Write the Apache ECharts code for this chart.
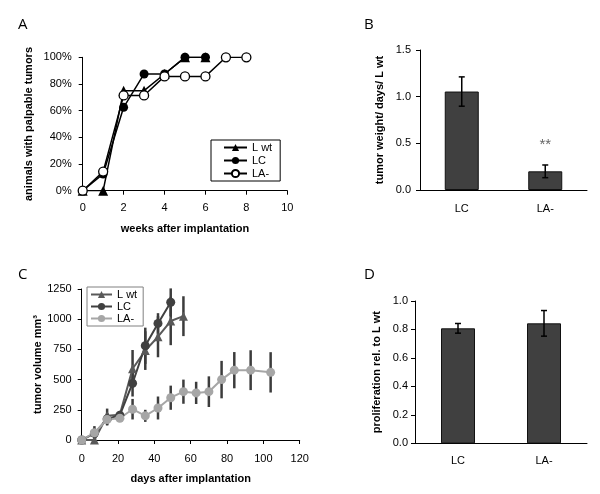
<!DOCTYPE html>
<html>
<head>
<meta charset="utf-8">
<script src="https://cdn.jsdelivr.net/npm/echarts@6/dist/echarts.min.js"></script>
<style>html,body{margin:0;padding:0;background:#fff;}#chart{width:600px;height:494px;}</style>
</head>
<body>
<div id="chart"></div>
<script>
// ---------- Panel A: animals with palpable tumors (%) ----------
const weeksA = [0, 1, 2, 3, 4, 5, 6, 7, 8];
const aLwt = [0, 0, 75, 75, 87.5, 100, 100];
const aLC = [0, 12.5, 62.5, 87.5, 87.5, 100, 100];
const aLAminus = [0, 14.3, 71.4, 71.4, 85.7, 85.7, 85.7, 100, 100];
const seriesNames = ['L wt', 'LC', 'LA-'];

// ---------- Panel B: tumor weight / days / L wt ----------
const barCats = ['LC', 'LA-'];
const bValues = [1.055, 0.2];
const bErrors = [0.157, 0.068];
const bSigLabel = '**';
const bSigValue = 0.48;

// ---------- Panel C: tumor volume (mm3) ----------
const daysLwt = [0, 7, 14, 21, 28, 35, 42, 49, 56];
const cLwt = [0, 0, 200, 210, 590, 740, 855, 985, 1025];
const cLwtErr = [0, 0, 60, 25, 155, 160, 170, 200, 165];
const daysLC = [0, 7, 14, 21, 28, 35, 42, 49];
const cLC = [0, 55, 175, 205, 470, 780, 965, 1140];
const cLCErr = [0, 60, 50, 30, 110, 150, 85, 115];
const daysLA = [0, 7, 14, 21, 28, 35, 42, 49, 56, 63, 70, 77, 84, 93, 104];
const cLA = [0, 60, 170, 180, 255, 200, 265, 350, 400, 390, 400, 500, 578, 578, 560];
const cLAErr = [0, 40, 50, 30, 85, 50, 95, 100, 100, 92, 127, 155, 150, 165, 167];

// ---------- Panel D: proliferation rel. to L wt ----------
const dValues = [0.808, 0.843];
const dErrors = [0.034, 0.09];

const FONT = '"Liberation Sans", Arial, sans-serif';

function pairs(xs, ys) { return ys.map((y, i) => [xs[i], y]); }
function errData(xs, ys, es) { return ys.map((y, i) => [xs[i], y - es[i], y + es[i]]); }

function errRender(cap, color, width) {
  return function (params, api) {
    const x = api.value(0), lo = api.value(1), hi = api.value(2);
    const p1 = api.coord([x, lo]), p2 = api.coord([x, hi]);
    const st = { stroke: color, lineWidth: width };
    const ch = [{ type: 'line', shape: { x1: p1[0], y1: p1[1], x2: p2[0], y2: p2[1] }, style: st }];
    if (cap) {
      ch.push({ type: 'line', shape: { x1: p1[0] - cap, y1: p1[1], x2: p1[0] + cap, y2: p1[1] }, style: st });
      ch.push({ type: 'line', shape: { x1: p2[0] - cap, y1: p2[1], x2: p2[0] + cap, y2: p2[1] }, style: st });
    }
    return { type: 'group', children: ch };
  };
}

function sigRender(params, api) {
  const p = api.coord([api.value(0), api.value(1)]);
  return { type: 'text', x: p[0], y: p[1],
    style: { text: bSigLabel, fill: '#666', fontSize: 15, fontFamily: FONT, align: 'center', verticalAlign: 'middle' } };
}

const axisLine = { show: true, lineStyle: { color: '#000', width: 1 } };
const axisTick = { show: true, inside: false, length: 4, lineStyle: { color: '#000' } };
const labelStyle = (margin, fmt) => ({ color: '#000', fontSize: 11, fontFamily: FONT, margin: margin, formatter: fmt || (v => String(v)) });
const nameStyle = { color: '#000', fontSize: 11, fontWeight: 'bold', fontFamily: FONT };
const letterStyle = { fontSize: 15, fontWeight: 'normal', color: '#000', fontFamily: '"Open Sans", sans-serif' };

const option = {
  animation: false,
  backgroundColor: '#fff',
  title: [
    { text: 'A', left: 13, top: 12, textStyle: letterStyle },
    { text: 'B', left: 359, top: 12, textStyle: letterStyle },
    { text: 'C', left: 13, top: 262, textStyle: letterStyle },
    { text: 'D', left: 359, top: 262, textStyle: letterStyle }
  ],
  grid: [
    { left: 82.7, top: 57.3, width: 204.6, height: 133.4 },
    { left: 420, top: 50, width: 167, height: 140 },
    { left: 81.7, top: 289, width: 218, height: 151 },
    { left: 415, top: 301, width: 172, height: 142.3 }
  ],
  legend: [
    {
      data: seriesNames, orient: 'vertical', left: 211, top: 140,
      itemWidth: 23, itemHeight: 9, itemGap: 2, padding: [2, 8, 2, 12],
      borderColor: '#000', borderWidth: 1, selectedMode: false,
      textStyle: { fontSize: 11, color: '#000', fontFamily: FONT }
    },
    {
      data: seriesNames.map(n => n + ' '), orient: 'vertical', left: 87, top: 287,
      itemWidth: 21, itemHeight: 9, itemGap: 1, padding: [2, 6, 2, 3],
      borderColor: '#808080', borderWidth: 1, selectedMode: false,
      formatter: n => n.trim(),
      textStyle: { fontSize: 11, color: '#000', fontFamily: FONT }
    }
  ],
  xAxis: [
    { gridIndex: 0, type: 'value', min: 0, max: 10, interval: 2, axisLine, axisTick, splitLine: { show: false },
      axisLabel: labelStyle(12), name: 'weeks after implantation', nameLocation: 'middle', nameGap: 33, nameTextStyle: nameStyle },
    { gridIndex: 1, type: 'category', data: barCats, axisLine, axisTick: { show: false },
      axisLabel: labelStyle(13) },
    { gridIndex: 2, type: 'value', min: 0, max: 120, interval: 20, axisLine, axisTick, splitLine: { show: false },
      axisLabel: labelStyle(13), name: 'days after implantation', nameLocation: 'middle', nameGap: 33, nameTextStyle: nameStyle },
    { gridIndex: 3, type: 'category', data: barCats, axisLine, axisTick: { show: false },
      axisLabel: labelStyle(12) }
  ],
  yAxis: [
    { gridIndex: 0, type: 'value', min: 0, max: 100, interval: 20, axisLine, axisTick, splitLine: { show: false },
      axisLabel: labelStyle(11, v => v + '%'), name: 'animals with palpable tumors', nameLocation: 'middle', nameGap: 48,
      nameTextStyle: Object.assign({}, nameStyle, { padding: [0, 0, 0, 0] }) },
    { gridIndex: 1, type: 'value', min: 0, max: 1.5, interval: 0.5, axisLine, axisTick, splitLine: { show: false },
      axisLabel: labelStyle(9, v => v.toFixed(1)), name: 'tumor weight/ days/ L wt', nameLocation: 'middle', nameGap: 35, nameTextStyle: nameStyle },
    { gridIndex: 2, type: 'value', min: 0, max: 1250, interval: 250, axisLine, axisTick, splitLine: { show: false },
      axisLabel: labelStyle(10, v => String(v)), name: 'tumor volume mm³', nameLocation: 'middle', nameGap: 38, nameTextStyle: nameStyle },
    { gridIndex: 3, type: 'value', min: 0, max: 1, interval: 0.2, axisLine, axisTick, splitLine: { show: false },
      axisLabel: labelStyle(7, v => v.toFixed(1)), name: 'proliferation rel. to L wt', nameLocation: 'middle', nameGap: 33, nameTextStyle: nameStyle }
  ],
  series: [
    // Panel A
    { name: 'L wt', type: 'line', xAxisIndex: 0, yAxisIndex: 0, data: pairs(weeksA, aLwt),
      symbol: 'triangle', symbolSize: 10, showAllSymbol: true,
      itemStyle: { color: '#000' }, lineStyle: { color: '#000', width: 1.5 }, z: 2 },
    { name: 'LC', type: 'line', xAxisIndex: 0, yAxisIndex: 0, data: pairs(weeksA, aLC),
      symbol: 'circle', symbolSize: 9, showAllSymbol: true,
      itemStyle: { color: '#000' }, lineStyle: { color: '#000', width: 1.5 }, z: 3 },
    { name: 'LA-', type: 'line', xAxisIndex: 0, yAxisIndex: 0, data: pairs(weeksA, aLAminus),
      symbol: 'circle', symbolSize: 9, showAllSymbol: true,
      itemStyle: { color: '#fff', borderColor: '#000', borderWidth: 1.3 }, lineStyle: { color: '#000', width: 1.5 }, z: 4 },
    // Panel B
    { name: 'B bars', type: 'bar', xAxisIndex: 1, yAxisIndex: 1, data: bValues, barWidth: 34,
      itemStyle: { color: '#404040', borderColor: '#111', borderWidth: 1 } },
    { name: 'B err', type: 'custom', xAxisIndex: 1, yAxisIndex: 1, encode: { x: 0, y: [1, 2] },
      data: errData([0, 1], bValues, bErrors), renderItem: errRender(3, '#000', 1.5), z: 5 },
    { name: 'B sig', type: 'custom', xAxisIndex: 1, yAxisIndex: 1, encode: { x: 0, y: 1 },
      data: [[1, bSigValue]], renderItem: sigRender, z: 5 },
    // Panel C error bars
    { name: 'C err wt', type: 'custom', xAxisIndex: 2, yAxisIndex: 2, encode: { x: 0, y: [1, 2] },
      data: errData(daysLwt, cLwt, cLwtErr), renderItem: errRender(0, '#3c3c3c', 2.5), z: 1 },
    { name: 'C err LC', type: 'custom', xAxisIndex: 2, yAxisIndex: 2, encode: { x: 0, y: [1, 2] },
      data: errData(daysLC, cLC, cLCErr), renderItem: errRender(0, '#3c3c3c', 2.5), z: 1 },
    { name: 'C err LA', type: 'custom', xAxisIndex: 2, yAxisIndex: 2, encode: { x: 0, y: [1, 2] },
      data: errData(daysLA, cLA, cLAErr), renderItem: errRender(0, '#3c3c3c', 2.5), z: 1 },
    // Panel C lines
    { name: 'L wt ', type: 'line', xAxisIndex: 2, yAxisIndex: 2, data: pairs(daysLwt, cLwt),
      symbol: 'triangle', symbolSize: 9, showAllSymbol: true,
      itemStyle: { color: '#595959' }, lineStyle: { color: '#595959', width: 2 }, z: 3 },
    { name: 'LC ', type: 'line', xAxisIndex: 2, yAxisIndex: 2, data: pairs(daysLC, cLC),
      symbol: 'circle', symbolSize: 9, showAllSymbol: true,
      itemStyle: { color: '#404040' }, lineStyle: { color: '#404040', width: 2 }, z: 3 },
    { name: 'LA- ', type: 'line', xAxisIndex: 2, yAxisIndex: 2, data: pairs(daysLA, cLA),
      symbol: 'circle', symbolSize: 9, showAllSymbol: true,
      itemStyle: { color: '#a6a6a6' }, lineStyle: { color: '#a6a6a6', width: 2 }, z: 3 },
    // Panel D
    { name: 'D bars', type: 'bar', xAxisIndex: 3, yAxisIndex: 3, data: dValues, barWidth: 34,
      itemStyle: { color: '#404040', borderColor: '#111', borderWidth: 1 } },
    { name: 'D err', type: 'custom', xAxisIndex: 3, yAxisIndex: 3, encode: { x: 0, y: [1, 2] },
      data: errData([0, 1], dValues, dErrors), renderItem: errRender(3, '#000', 1.5), z: 5 }
  ]
};

const chart = echarts.init(document.getElementById('chart'), null, { renderer: 'canvas' });
chart.setOption(option);
</script>
</body>
</html>
